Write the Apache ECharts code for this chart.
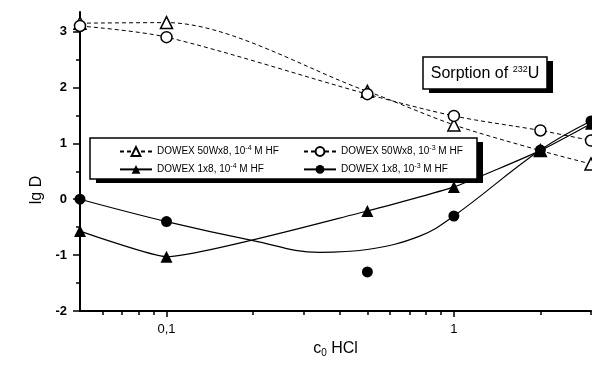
<!DOCTYPE html>
<html>
<head>
<meta charset="utf-8">
<script src="https://cdn.jsdelivr.net/npm/echarts@6/dist/echarts.min.js"></script>
<style>
html,body{margin:0;padding:0;background:#fff}
#main{width:592px;height:367px}
</style>
</head>
<body>
<div id="main"></div>
<script>
// c0 HCl, mol/l
var hcl = [0.05, 0.1, 0.5, 1, 2, 3];
// lg D values
var d50W_4 = [3.15, 3.16, 1.93, 1.33, 0.87, 0.63];
var d50W_3 = [3.1, 2.9, 1.88, 1.49, 1.23, 1.05];
var d1x8_4 = [-0.57, -1.03, -0.21, 0.22, 0.87, 1.35];
var d1x8_3 = [0, -0.4, -1.3, -0.3, 0.88, 1.4];
// fitted curve for 1x8, 10-3 M HF
var fitX = [0.05, 0.1, 0.2, 0.34, 0.5, 0.76, 1, 2, 3];
var fitY = [0, -0.4, -0.74, -0.95, -0.9, -0.66, -0.3, 0.88, 1.4];

var xMajor = [0.1, 1];
var xMinor = [0.06, 0.07, 0.08, 0.09, 0.2, 0.3, 0.4, 0.5, 0.6, 0.7, 0.8, 0.9, 2, 3];
var yMajor = [-2, -1, 0, 1, 2, 3];
var yMinor = [-1.5, -0.5, 0.5, 1.5, 2.5];

var names = ['DOWEX 50Wx8, 10-4 M HF', 'DOWEX 50Wx8, 10-3 M HF', 'DOWEX 1x8, 10-4 M HF', 'DOWEX 1x8, 10-3 M HF'];
var legendText = {};
legendText[names[0]] = '{n|DOWEX 50Wx8, 10}{s|-4}{n| M HF}';
legendText[names[1]] = '{n|DOWEX 50Wx8, 10}{s|-3}{n| M HF}';
legendText[names[2]] = '{n|DOWEX 1x8, 10}{s|-4}{n| M HF}';
legendText[names[3]] = '{n|DOWEX 1x8, 10}{s|-3}{n| M HF}';

function pairs(xs, ys) {
    return xs.map(function (x, i) { return [x, ys[i]]; });
}

var font = 'Liberation Sans, Arial, sans-serif';
var dash = [4, 3];

var legendBase = {
    orient: 'vertical',
    top: 140,
    itemWidth: 32,
    itemHeight: 11,
    itemGap: 6,
    selectedMode: false,
    z: 60,
    formatter: function (name) { return legendText[name]; },
    textStyle: {
        fontFamily: font,
        color: '#000',
        rich: {
            n: {fontSize: 10, fontFamily: font, color: '#000'},
            s: {fontSize: 7, fontFamily: font, color: '#000', padding: [0, 0, 6, 0]}
        }
    }
};

// boxes with hard drop shadows (shadow rect drawn first)
function shadowBox(x, y, w, h) {
    return [{
        type: 'rect', z: 48,
        shape: {x: x + 6, y: y + 4, width: w, height: h},
        style: {fill: '#000'}
    }, {
        type: 'rect', z: 49,
        shape: {x: x, y: y, width: w, height: h},
        style: {fill: '#fff', stroke: '#000', lineWidth: 1.5}
    }];
}

var chart = echarts.init(document.getElementById('main'));
var option = {
    backgroundColor: '#fff',
    animation: false,
    graphic: shadowBox(423, 57, 124, 32).concat(shadowBox(90, 138, 387, 41)).concat([{
        type: 'text', z: 55,
        x: 485, y: 74,
        style: {
            text: '{a|Sorption of }{s|232}{a|U}',
            align: 'center',
            verticalAlign: 'middle',
            rich: {
                a: {fontSize: 16, fontFamily: font, fill: '#000'},
                s: {fontSize: 9, fontFamily: font, fill: '#000', padding: [0, 0, 8, 0]}
            }
        }
    }]),
    legend: [
        Object.assign({}, legendBase, {left: 114, data: [names[0], names[2]]}),
        Object.assign({}, legendBase, {left: 298, data: [names[1], names[3]]})
    ],
    grid: {left: 80, right: 1, top: 12, bottom: 56, containLabel: false, outerBoundsMode: 'none'},
    xAxis: [{
        type: 'log',
        logBase: 10,
        min: 0.05,
        max: 3,
        name: '{a|c}{b|0}{a| HCl}',
        nameLocation: 'middle',
        nameGap: 29,
        nameTextStyle: {
            rich: {
                a: {fontSize: 16, fontFamily: font, color: '#000'},
                b: {fontSize: 10, fontFamily: font, color: '#000', padding: [8, 0, 0, 0]}
            }
        },
        axisLine: {onZero: false, lineStyle: {color: '#000', width: 2}},
        axisTick: {customValues: xMajor, inside: false, length: 6, lineStyle: {color: '#000', width: 1.5}},
        axisLabel: {
            customValues: xMajor,
            margin: 12,
            fontSize: 13,
            fontFamily: font,
            color: '#000',
            formatter: function (v) { return String(v).replace('.', ','); }
        },
        splitLine: {show: false}
    }, {
        type: 'log',
        logBase: 10,
        min: 0.05,
        max: 3,
        position: 'bottom',
        axisLine: {show: false, onZero: false},
        axisTick: {customValues: xMinor, inside: false, length: 4, lineStyle: {color: '#000', width: 1.5}},
        axisLabel: {show: false},
        splitLine: {show: false}
    }],
    yAxis: [{
        type: 'value',
        min: -2,
        max: 3.35,
        name: 'lg D',
        nameLocation: 'middle',
        nameGap: 33,
        nameTextStyle: {fontSize: 16, fontFamily: font, color: '#000', padding: [0, 57, 0, 0]},
        axisLine: {onZero: false, lineStyle: {color: '#000', width: 2}},
        axisTick: {customValues: yMajor, inside: false, length: 7, lineStyle: {color: '#000', width: 1.5}},
        axisLabel: {customValues: yMajor, margin: 13, fontSize: 13, fontWeight: 'bold', fontFamily: font, color: '#000'},
        splitLine: {show: false}
    }, {
        type: 'value',
        min: -2,
        max: 3.35,
        position: 'left',
        axisLine: {show: false, onZero: false},
        axisTick: {customValues: yMinor, inside: false, length: 4, lineStyle: {color: '#000', width: 1.5}},
        axisLabel: {show: false},
        splitLine: {show: false}
    }],
    series: [{
        name: names[0],
        type: 'line',
        data: pairs(hcl, d50W_4),
        smooth: 0.3,
        symbol: 'triangle',
        symbolSize: 12,
        itemStyle: {color: '#fff', borderColor: '#000', borderWidth: 1.5},
        lineStyle: {color: '#000', width: 1, type: dash},
        emphasis: {disabled: true},
        z: 3
    }, {
        name: names[1],
        type: 'line',
        data: pairs(hcl, d50W_3),
        smooth: 0.3,
        symbol: 'circle',
        symbolSize: 11,
        itemStyle: {color: '#fff', borderColor: '#000', borderWidth: 1.5},
        lineStyle: {color: '#000', width: 1, type: dash},
        emphasis: {disabled: true},
        z: 4
    }, {
        name: names[2],
        type: 'line',
        data: pairs(hcl, d1x8_4),
        smooth: 0.15,
        symbol: 'triangle',
        symbolSize: 12,
        itemStyle: {color: '#000'},
        lineStyle: {color: '#000', width: 1.2},
        emphasis: {disabled: true},
        z: 5
    }, {
        name: names[3],
        type: 'line',
        data: pairs(fitX, fitY),
        smooth: 0.4,
        showSymbol: false,
        symbol: 'circle',
        symbolSize: 11,
        itemStyle: {color: '#000'},
        lineStyle: {color: '#000', width: 1.2},
        emphasis: {disabled: true},
        z: 5
    }, {
        name: names[3],
        type: 'scatter',
        data: pairs(hcl, d1x8_3),
        symbol: 'circle',
        symbolSize: 11,
        itemStyle: {color: '#000', opacity: 1},
        emphasis: {disabled: true},
        z: 6
    }]
};
chart.setOption(option);
</script>
</body>
</html>
